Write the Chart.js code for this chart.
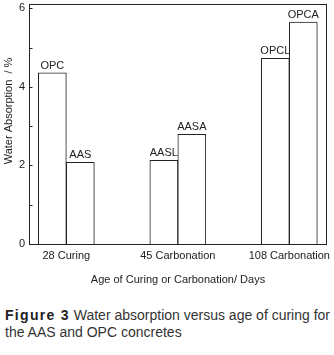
<!DOCTYPE html>
<html><head><meta charset="utf-8">
<script src="https://cdn.jsdelivr.net/npm/chart.js@4"></script>
<style>
html,body{margin:0;padding:0;background:#fff;}
#wrap{position:relative;width:334px;height:355px;overflow:hidden;background:#fff;}
canvas{position:absolute;left:0;top:0;}
#cap{position:absolute;left:5px;top:307px;font-family:"Liberation Sans",Arial,sans-serif;font-size:14px;line-height:17px;color:#333;white-space:nowrap;}
#cap b{letter-spacing:1.3px;color:#222;}
</style></head><body>
<div id="wrap"><canvas id="c" width="334" height="290"></canvas>
<div id="cap"><b>Figure 3</b> Water absorption versus age of curing for<br>the AAS and OPC concretes</div></div>
<script>
const categories = ['28 Curing', '45 Carbonation', '108 Carbonation'];
const leftLabels = ['OPC', 'AASL', 'OPCL'];
const leftValues = [4.36, 2.13, 4.73];
const rightLabels = ['AAS', 'AASA', 'OPCA'];
const rightValues = [2.08, 2.79, 5.65];
const yTickValues = [0, 1, 2, 3, 4, 5, 6];
const yTickLabels = ['0', '', '2', '', '4', '', '6'];
const yTitle = 'Water Absorption  / %';
const xTitle = 'Age of Curing or Carbonation/ Days';

const FONT = '"Liberation Sans", Arial, sans-serif';
const INK = '#222';
Chart.defaults.font.family = FONT;
Chart.defaults.color = INK;

const toPoints = vals => vals.map((v, i) => ({x: i, y: v}));

const decor = {
  id: 'decor',
  afterDatasetsDraw(chart) {
    const {ctx, chartArea: a, scales: {y}} = chart;
    ctx.save();
    ctx.strokeStyle = INK; ctx.lineWidth = 1;
    const L = Math.round(a.left) + 0.5, R = Math.round(a.right) - 0.5;
    const T = Math.round(a.top) + 0.5, B = Math.round(a.bottom) + 0.5;
    ctx.strokeRect(L, T, R - L, B - T);
    yTickValues.forEach(v => {
      const p = Math.round(y.getPixelForValue(v)) + 0.5;
      ctx.beginPath(); ctx.moveTo(L, p); ctx.lineTo(L + 3, p); ctx.stroke();
    });
    ctx.fillStyle = INK;
    ctx.font = '11px ' + FONT;
    ctx.textAlign = 'center'; ctx.textBaseline = 'alphabetic';
    [leftLabels, rightLabels].forEach((labs, di) => {
      chart.getDatasetMeta(di).data.forEach((el, i) => {
        ctx.fillText(labs[i], el.x, el.y - 4);
      });
    });
    ctx.translate(9, 111);
    ctx.rotate(-Math.PI / 2);
    ctx.textBaseline = 'middle';
    ctx.fillText(yTitle, 0, 0);
    ctx.restore();
  }
};

new Chart(document.getElementById('c'), {
  type: 'bar',
  data: {
    datasets: [
      {label: 'left', data: toPoints(leftValues), backgroundColor: '#fff', borderColor: INK, borderWidth: 1, barThickness: 28},
      {label: 'right', data: toPoints(rightValues), backgroundColor: '#fff', borderColor: INK, borderWidth: 1, barThickness: 28}
    ]
  },
  options: {
    responsive: false,
    devicePixelRatio: 1,
    animation: false,
    layout: {padding: {left: 0, top: 4, right: 7, bottom: 0}},
    plugins: {legend: {display: false}, tooltip: {enabled: false}},
    scales: {
      x: {
        type: 'linear',
        offset: false,
        min: -0.335, max: 2.338,
        grid: {display: false, drawTicks: false},
        border: {display: false},
        afterBuildTicks: s => { s.ticks = categories.map((c, i) => ({value: i})); },
        afterFit: s => { s.height = 46; s.paddingLeft = 0; s.paddingRight = 0; },
        ticks: {
          autoSkip: false, maxRotation: 0, padding: 5,
          font: {size: 11}, color: INK,
          callback: v => categories[v]
        },
        title: {display: true, text: xTitle, font: {size: 11}, color: INK, padding: {top: 0, bottom: 3}}
      },
      y: {
        min: 0, max: 6.11,
        grid: {display: false, drawTicks: false},
        border: {display: false},
        afterFit: s => { s.width = 29; s.paddingTop = 0; s.paddingBottom = 0; },
        ticks: {
          stepSize: 1, includeBounds: false, padding: 4,
          font: {size: 11}, color: INK,
          callback: v => { const i = yTickValues.indexOf(v); return i >= 0 ? yTickLabels[i] : ''; }
        }
      }
    }
  },
  plugins: [decor]
});
</script>
</body></html>
